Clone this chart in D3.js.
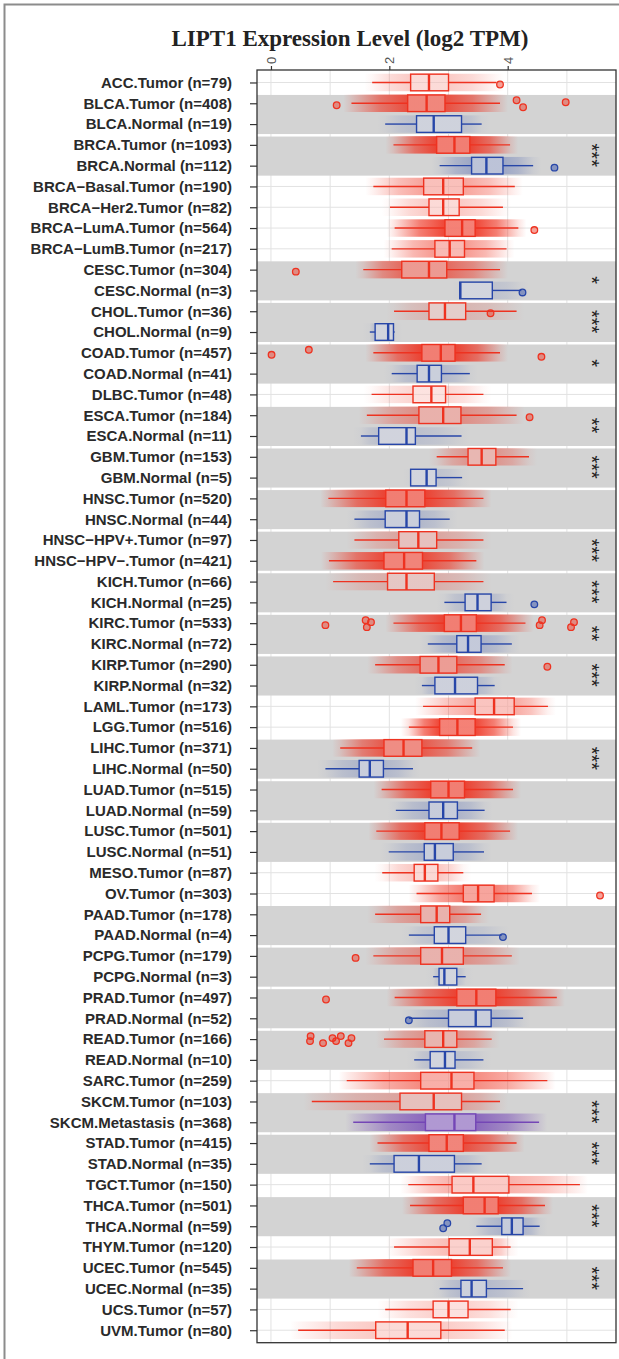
<!DOCTYPE html>
<html><head><meta charset="utf-8">
<script src="https://cdn.jsdelivr.net/npm/d3@7"></script>
<style>body{margin:0;background:#fff}svg{display:block}</style>
</head><body>
<svg id="chart" width="619" height="1359"></svg>
<script>
const title = "LIPT1 Expression Level (log2 TPM)";
const xTicks = [0, 2, 4];
const gridValues = [0, 1, 2, 3, 4, 5];
const categories = [
"ACC.Tumor (n=79)","BLCA.Tumor (n=408)","BLCA.Normal (n=19)","BRCA.Tumor (n=1093)","BRCA.Normal (n=112)",
"BRCA−Basal.Tumor (n=190)","BRCA−Her2.Tumor (n=82)","BRCA−LumA.Tumor (n=564)","BRCA−LumB.Tumor (n=217)",
"CESC.Tumor (n=304)","CESC.Normal (n=3)","CHOL.Tumor (n=36)","CHOL.Normal (n=9)","COAD.Tumor (n=457)",
"COAD.Normal (n=41)","DLBC.Tumor (n=48)","ESCA.Tumor (n=184)","ESCA.Normal (n=11)","GBM.Tumor (n=153)",
"GBM.Normal (n=5)","HNSC.Tumor (n=520)","HNSC.Normal (n=44)","HNSC−HPV+.Tumor (n=97)","HNSC−HPV−.Tumor (n=421)",
"KICH.Tumor (n=66)","KICH.Normal (n=25)","KIRC.Tumor (n=533)","KIRC.Normal (n=72)","KIRP.Tumor (n=290)",
"KIRP.Normal (n=32)","LAML.Tumor (n=173)","LGG.Tumor (n=516)","LIHC.Tumor (n=371)","LIHC.Normal (n=50)",
"LUAD.Tumor (n=515)","LUAD.Normal (n=59)","LUSC.Tumor (n=501)","LUSC.Normal (n=51)","MESO.Tumor (n=87)",
"OV.Tumor (n=303)","PAAD.Tumor (n=178)","PAAD.Normal (n=4)","PCPG.Tumor (n=179)","PCPG.Normal (n=3)",
"PRAD.Tumor (n=497)","PRAD.Normal (n=52)","READ.Tumor (n=166)","READ.Normal (n=10)","SARC.Tumor (n=259)",
"SKCM.Tumor (n=103)","SKCM.Metastasis (n=368)","STAD.Tumor (n=415)","STAD.Normal (n=35)","TGCT.Tumor (n=150)",
"THCA.Tumor (n=501)","THCA.Normal (n=59)","THYM.Tumor (n=120)","UCEC.Tumor (n=545)","UCEC.Normal (n=35)",
"UCS.Tumor (n=57)","UVM.Tumor (n=80)"];
const whiskerLow = [1.71,1.36,1.93,2.07,2.85,1.73,2.01,2.09,2.04,1.56,3.19,2.08,1.67,1.73,2.04,1.70,1.62,1.52,2.80,2.36,
0.97,1.41,1.41,0.98,1.05,2.93,2.07,2.65,1.76,2.55,2.57,2.33,1.17,0.92,1.87,2.11,1.78,1.99,1.88,2.46,
1.76,2.33,1.73,2.74,2.09,2.33,1.91,2.42,1.28,0.69,1.39,1.80,1.67,2.32,2.35,3.47,2.08,1.45,2.85,1.93,0.46];
const q1 = [2.36,2.31,2.46,2.80,3.39,2.58,2.67,2.94,2.77,2.21,3.19,2.67,1.76,2.55,2.47,2.40,2.50,1.82,3.33,2.36,
1.94,1.93,2.16,1.91,1.97,3.28,2.93,3.14,2.52,2.77,3.45,2.85,1.91,1.49,2.70,2.67,2.60,2.59,2.42,3.25,
2.53,2.76,2.53,2.84,3.14,3.00,2.60,2.69,2.53,2.18,2.61,2.67,2.08,3.06,3.25,3.90,3.01,2.40,3.21,2.74,1.77];
const median = [2.67,2.63,2.75,3.10,3.64,2.91,2.91,3.23,3.02,2.67,3.20,2.94,1.98,2.87,2.67,2.71,2.91,2.29,3.56,2.63,
2.29,2.29,2.49,2.25,2.29,3.49,3.21,3.33,2.83,3.11,3.77,3.15,2.24,1.67,3.00,2.91,2.88,2.77,2.60,3.50,
2.80,3.00,2.89,2.93,3.47,3.46,2.91,2.94,3.05,2.75,3.10,2.97,2.50,3.42,3.61,4.07,3.36,2.74,3.39,3.00,2.31];
const q3 = [3.00,2.94,3.22,3.36,3.92,3.25,3.18,3.45,3.27,2.97,3.74,3.29,2.07,3.11,2.88,2.95,3.21,2.44,3.80,2.79,
2.60,2.51,2.80,2.56,2.76,3.72,3.47,3.55,3.14,3.49,4.11,3.45,2.55,1.90,3.27,3.15,3.18,3.08,2.82,3.77,
3.02,3.29,3.25,3.14,3.80,3.72,3.14,3.11,3.43,3.22,3.46,3.25,3.10,4.02,3.84,4.26,3.74,3.05,3.64,3.33,2.87];
const whiskerHigh = [3.81,3.87,3.56,4.04,4.43,4.12,3.92,4.18,3.98,3.87,4.23,4.15,2.09,3.87,3.36,3.59,4.15,3.22,4.36,3.23,
3.59,3.02,3.59,3.47,3.59,3.98,4.30,4.07,3.95,3.78,4.68,4.09,3.40,2.40,4.09,3.61,4.04,3.60,3.25,4.41,
3.55,3.90,4.07,3.29,4.83,4.26,3.73,3.59,4.67,3.87,4.53,4.15,3.56,5.22,4.63,4.54,4.05,3.92,4.26,4.05,3.95];
const outliers = [[3.87],[1.11,4.15,4.26,4.98],[],[],[4.79],[],[],[4.45],[],[0.42],[4.25],[3.71],[],[0.01,0.64,4.57],
[],[],[4.37],[],[],[],[],[],[],[],[],[4.45],[0.92,1.60,1.62,1.69,4.54,4.58,5.07,5.12],[],[4.67],[],[],[],[],[],[],[],
[],[],[],[5.56],[],[3.92],[1.43],[],[0.93],[2.33],[0.66,0.67,0.88,1.04,1.10,1.18,1.31,1.36],[],[],[],[],[],[],[],[],
[2.91,2.98],[],[],[],[],[]];
const comparisons = [
["BLCA.Tumor (n=408)","BLCA.Normal (n=19)",""],
["BRCA.Tumor (n=1093)","BRCA.Normal (n=112)","***"],
["CESC.Tumor (n=304)","CESC.Normal (n=3)","*"],
["CHOL.Tumor (n=36)","CHOL.Normal (n=9)","***"],
["COAD.Tumor (n=457)","COAD.Normal (n=41)","*"],
["ESCA.Tumor (n=184)","ESCA.Normal (n=11)","**"],
["GBM.Tumor (n=153)","GBM.Normal (n=5)","***"],
["HNSC.Tumor (n=520)","HNSC.Normal (n=44)",""],
["HNSC−HPV+.Tumor (n=97)","HNSC−HPV−.Tumor (n=421)","***"],
["KICH.Tumor (n=66)","KICH.Normal (n=25)","***"],
["KIRC.Tumor (n=533)","KIRC.Normal (n=72)","**"],
["KIRP.Tumor (n=290)","KIRP.Normal (n=32)","***"],
["LIHC.Tumor (n=371)","LIHC.Normal (n=50)","***"],
["LUAD.Tumor (n=515)","LUAD.Normal (n=59)",""],
["LUSC.Tumor (n=501)","LUSC.Normal (n=51)",""],
["PAAD.Tumor (n=178)","PAAD.Normal (n=4)",""],
["PCPG.Tumor (n=179)","PCPG.Normal (n=3)",""],
["PRAD.Tumor (n=497)","PRAD.Normal (n=52)",""],
["READ.Tumor (n=166)","READ.Normal (n=10)",""],
["SKCM.Tumor (n=103)","SKCM.Metastasis (n=368)","***"],
["STAD.Tumor (n=415)","STAD.Normal (n=35)","***"],
["THCA.Tumor (n=501)","THCA.Normal (n=59)","***"],
["UCEC.Tumor (n=545)","UCEC.Normal (n=35)","***"]];

const rows = categories.map((c, i) => ({
  label: c, i, lo: whiskerLow[i], q1: q1[i], med: median[i], q3: q3[i], hi: whiskerHigh[i],
  out: outliers[i], n: +c.match(/n=(\d+)/)[1]
}));
const colorOf = l => l.includes("Normal") ? "#2746a8" : l.includes("Metastasis") ? "#7446b6" : "#ee3220";

const svg = d3.select("#chart");
const P = {left: 257, right: 616, top: 70, bottom: 1342.7};
const x = d3.scaleLinear().domain([-0.236, 5.83]).range([P.left, P.right]);
const y = d3.scalePoint().domain(categories).range([P.top, P.bottom]).padding(0.6);
const step = y.step();

svg.append("rect").attr("width", 619).attr("height", 1359).attr("fill", "#fff");
svg.append("path").attr("d", "M4.5,1359V4.5H619").attr("fill", "none").attr("stroke", "#8c8c8c").attr("stroke-width", 2);

// grid
const grid = svg.append("g");
grid.selectAll("line.v").data(gridValues).join("line")
  .attr("x1", d => x(d)).attr("x2", d => x(d)).attr("y1", P.top).attr("y2", P.bottom)
  .attr("stroke", "#e2e2e2").attr("stroke-width", 1);
grid.selectAll("line.h").data(categories).join("line")
  .attr("x1", P.left).attr("x2", P.right).attr("y1", d => y(d)).attr("y2", d => y(d))
  .attr("stroke", "#e2e2e2").attr("stroke-width", 1);

// gray bands
svg.append("g").selectAll("rect").data(comparisons).join("rect")
  .attr("x", P.left).attr("width", P.right - P.left)
  .attr("y", d => y(d[0]) - 0.4 * step)
  .attr("height", d => y(d[1]) - y(d[0]) + 0.88 * step)
  .attr("fill", "#d3d3d3");

// point clouds as gradients
const defs = svg.append("defs");
rows.forEach(r => {
  const k = 0.12 + 0.78 * Math.min(1, r.n / 450);
  const gr = defs.append("linearGradient").attr("id", "gr" + r.i)
    .attr("gradientUnits", "userSpaceOnUse")
    .attr("x1", x(r.lo) - 8).attr("x2", x(r.hi) + 8).attr("y1", 0).attr("y2", 0);
  const x0 = x(r.lo) - 8, x1 = x(r.hi) + 8, w = x1 - x0;
  const stops = [[x0, 0], [x(r.lo), 0.15], [(x(r.lo) + x(r.q1)) / 2, 0.7], [x(r.q1), 1], [x(r.q3), 1],
                 [(x(r.q3) + x(r.hi)) / 2, 0.7], [x(r.hi), 0.15], [x1, 0]];
  stops.forEach(s => gr.append("stop").attr("offset", Math.max(0, Math.min(1, (s[0] - x0) / w)))
    .attr("stop-color", colorOf(r.label)).attr("stop-opacity", s[1] * k));
});
const marks = svg.append("g");
marks.selectAll("rect.cloud").data(rows).join("rect")
  .attr("x", d => x(d.lo) - 8).attr("width", d => x(d.hi) - x(d.lo) + 16)
  .attr("y", d => y(d.label) - 0.42 * step).attr("height", 0.84 * step)
  .attr("fill", d => `url(#gr${d.i})`);

// whiskers
marks.selectAll("line.wl").data(rows).join("line")
  .attr("x1", d => x(d.lo)).attr("x2", d => x(d.q1)).attr("y1", d => y(d.label)).attr("y2", d => y(d.label))
  .attr("stroke", d => colorOf(d.label)).attr("stroke-width", 1.4);
marks.selectAll("line.wh").data(rows).join("line")
  .attr("x1", d => x(d.q3)).attr("x2", d => x(d.hi)).attr("y1", d => y(d.label)).attr("y2", d => y(d.label))
  .attr("stroke", d => colorOf(d.label)).attr("stroke-width", 1.4);
// boxes
marks.selectAll("rect.box").data(rows).join("rect")
  .attr("x", d => x(d.q1)).attr("width", d => x(d.q3) - x(d.q1))
  .attr("y", d => y(d.label) - 0.4 * step).attr("height", 0.8 * step)
  .attr("fill", "#fff").attr("fill-opacity", 0.32)
  .attr("stroke", d => colorOf(d.label)).attr("stroke-width", 1.4);
marks.selectAll("line.med").data(rows).join("line")
  .attr("x1", d => x(d.med)).attr("x2", d => x(d.med))
  .attr("y1", d => y(d.label) - 0.4 * step).attr("y2", d => y(d.label) + 0.4 * step)
  .attr("stroke", d => colorOf(d.label)).attr("stroke-width", 2.4);
// outliers
const outPts = rows.flatMap(r => r.out.map((v, k) => ({v, label: r.label, k})));
marks.selectAll("circle").data(outPts).join("circle")
  .attr("cx", d => x(d.v)).attr("cy", d => y(d.label) + [2, -3, 4, -1][d.k % 4])
  .attr("r", 3.3).attr("fill", d => colorOf(d.label)).attr("fill-opacity", 0.45)
  .attr("stroke", d => colorOf(d.label)).attr("stroke-width", 1.3);

// significance
svg.append("g").selectAll("text").data(comparisons.filter(c => c[2])).join("text")
  .attr("transform", d => `translate(592,${(y(d[0]) + y(d[1])) / 2}) rotate(90)`)
  .attr("text-anchor", "middle").attr("dy", "0.35em")
  .attr("font-family", "Liberation Sans, Arial, sans-serif").attr("font-size", 20).attr("fill", "#222")
  .text(d => d[2]);

// panel border
svg.append("rect").attr("x", P.left).attr("y", P.top).attr("width", P.right - P.left).attr("height", P.bottom - P.top)
  .attr("fill", "none").attr("stroke", "#333").attr("stroke-width", 1.3);

// axes
const xa = svg.append("g").attr("transform", `translate(0,${P.top})`)
  .call(d3.axisTop(x).tickValues(xTicks).tickSize(4).tickFormat(d3.format("d")));
xa.select(".domain").remove();
xa.selectAll("line").attr("stroke", "#333").attr("stroke-width", 1.2);
xa.selectAll("text").attr("transform", "rotate(-90)").attr("x", 6).attr("y", 0).attr("dy", "0.35em")
  .attr("text-anchor", "start").attr("font-family", "Liberation Sans, Arial, sans-serif")
  .attr("font-size", 13).attr("fill", "#555");

const ya = svg.append("g").attr("transform", `translate(${P.left},0)`)
  .call(d3.axisLeft(y).tickSize(7).tickPadding(18));
ya.select(".domain").remove();
ya.selectAll("line").attr("stroke", "#333").attr("stroke-width", 1.2);
ya.selectAll("text").attr("font-family", "Liberation Sans, Arial, sans-serif").attr("font-weight", "bold")
  .attr("font-size", 15).attr("fill", "#2a2a2a");

svg.append("text").attr("x", 350).attr("y", 46).attr("text-anchor", "middle")
  .attr("font-family", "Liberation Serif, Times New Roman, serif").attr("font-weight", "bold")
  .attr("font-size", 23).attr("fill", "#222").text(title);
</script>
</body></html>
